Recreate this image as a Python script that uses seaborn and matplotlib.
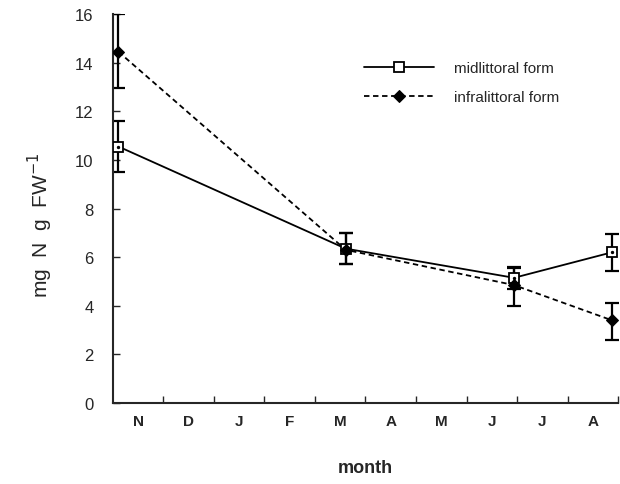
import numpy as np
import pandas as pd
import seaborn as sns
import matplotlib.pyplot as plt

sns.set_style("ticks")
plt.rcParams['font.family'] = ['Liberation Sans', 'DejaVu Sans']

# months on x axis (Nov .. Aug), sampling positions in month units
months = ["N", "D", "J", "F", "M", "A", "M", "J", "J", "A"]
sample_x = [0.11, 4.61, 7.94, 9.88]

mid_vals = [10.55, 6.35, 5.15, 6.2]
mid_err = [1.05, 0.65, 0.45, 0.75]
infra_vals = [14.45, 6.3, 4.85, 3.4]
infra_lo = [1.5, 0.6, 0.85, 0.8]
infra_hi = [1.55, 0.7, 0.7, 0.7]

df = pd.DataFrame({
    "x": sample_x * 2,
    "y": mid_vals + infra_vals,
    "form": ["midlittoral form"] * 4 + ["infralittoral form"] * 4,
})

fig = plt.figure(figsize=(6.2, 4.85), dpi=100)
ax = fig.add_axes([0.182, 0.167, 0.815, 0.802])

ax.errorbar(sample_x, mid_vals, yerr=mid_err, fmt="none", ecolor="black",
            elinewidth=1.6, capsize=5, capthick=1.6, zorder=2)
ax.errorbar(sample_x, infra_vals, yerr=[infra_lo, infra_hi], fmt="none",
            ecolor="black", elinewidth=1.6, capsize=5, capthick=1.6, zorder=2)

sns.lineplot(data=df, x="x", y="y", hue="form", style="form",
             palette=["black", "black"], dashes=[(None, None), (3, 2)],
             markers=["s", "D"], markersize=7, linewidth=1.3, ax=ax, zorder=3)
for ln in ax.get_lines():
    if ln.get_marker() == "s":
        ln.set_markerfacecolor("white")
        ln.set_markeredgecolor("black")
        ln.set_markeredgewidth(1.3)
    elif ln.get_marker() == "D":
        ln.set_markerfacecolor("black")
        ln.set_markeredgecolor("black")
        ln.set_markersize(6)
# small dot inside the open squares
ax.scatter(sample_x, mid_vals, s=2, color="black", zorder=4)

ax.set_xlim(0, 10)
ax.set_ylim(0, 16)
ax.set_xticks(np.arange(1, 11))
ax.set_xticklabels([])
ax.set_xticks(np.arange(10) + 0.5, minor=True)
ax.set_xticklabels(months, minor=True, fontsize=11, fontweight="bold")
ax.tick_params(axis="x", which="major", direction="in", length=5, width=1)
ax.tick_params(axis="x", which="minor", length=0, pad=8)
ax.set_yticks(np.arange(0, 17, 2))
ax.tick_params(axis="y", direction="in", length=5, width=1, labelsize=12, pad=14)
sns.despine(ax=ax)
ax.spines["left"].set_linewidth(1.5)
ax.spines["bottom"].set_linewidth(1.5)

ax.set_xlabel("month", fontsize=13, fontweight="bold", labelpad=22)
ax.set_ylabel("mg  N  g  FW$^{-1}$", fontsize=15)
ax.yaxis.set_label_coords(-0.115, 0.46)

leg = ax.legend(loc="upper left", bbox_to_anchor=(0.47, 0.915), frameon=False,
                handlelength=4.6, handletextpad=1.3, fontsize=11,
                labelspacing=1.0, title=None)

fig.savefig("out.png", dpi=100)
